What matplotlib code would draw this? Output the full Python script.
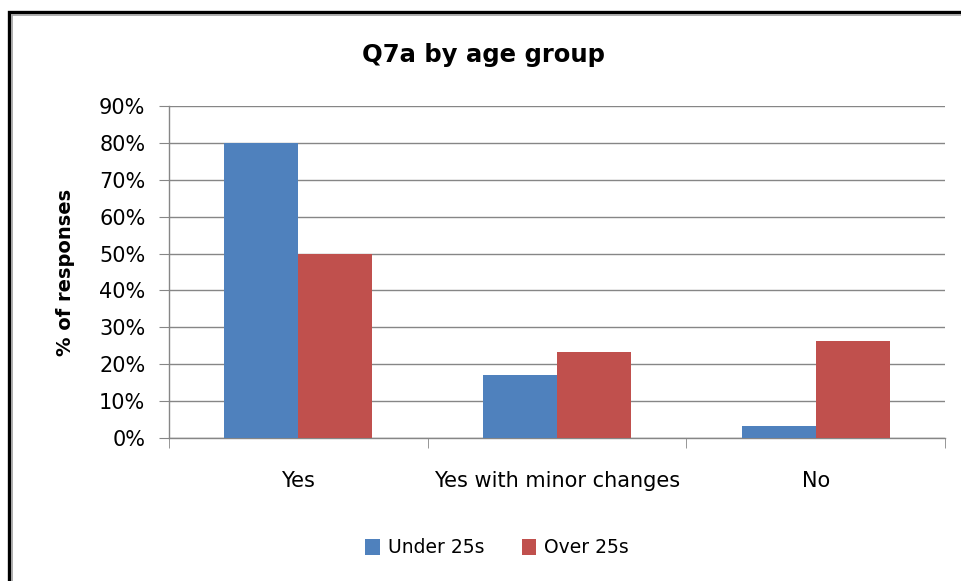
import numpy as np
import matplotlib
matplotlib.use('Agg')
import matplotlib.pyplot as plt
from matplotlib.patches import Rectangle
from matplotlib.ticker import FuncFormatter

categories = ['Yes', 'Yes with minor changes', 'No']
series_names = ['Under 25s', 'Over 25s']
under_25s = [80.0, 17.0, 3.2]
over_25s = [50.0, 23.3, 26.4]
colors = ['#4F81BD', '#C0504D']
y_ticks = list(range(0, 100, 10))

plt.rcParams['font.family'] = ['DejaVu Sans']

fig = plt.figure(figsize=(9.62, 5.81), dpi=100)
ax = fig.add_axes([0.1757, 0.2461, 0.8066, 0.5715])

x = np.arange(len(categories))
bar_w = 1.0 / 3.5
ax.bar(x - bar_w / 2, under_25s, width=bar_w, color=colors[0], label=series_names[0], zorder=3)
ax.bar(x + bar_w / 2, over_25s, width=bar_w, color=colors[1], label=series_names[1], zorder=3)

ax.set_xlim(-0.5, len(categories) - 0.5)
ax.set_ylim(0, 90)
ax.set_yticks(y_ticks)
ax.yaxis.set_major_formatter(FuncFormatter(lambda v, p: f"{int(v)}%"))
ax.grid(axis='y', color='#868686', linewidth=1.0, zorder=0)

# category labels on major ticks, tick marks at group boundaries
ax.set_xticks(x)
ax.set_xticklabels(categories)
ax.set_xticks(np.arange(-0.5, len(categories)), minor=True)
ax.tick_params(axis='x', which='major', length=0, pad=24, labelsize=15)
ax.tick_params(axis='x', which='minor', length=7, color='#868686', direction='out')
ax.tick_params(axis='y', length=7, color='#868686', pad=10, labelsize=15)

for side in ['top', 'right']:
    ax.spines[side].set_visible(False)
for side in ['left', 'bottom']:
    ax.spines[side].set_color('#868686')
    ax.spines[side].set_linewidth(1.0)

ax.set_ylabel('% of responses', fontsize=14, fontweight='bold', labelpad=17)
fig.text(0.503, 0.905, 'Q7a by age group', ha='center', va='center',
         fontsize=17.5, fontweight='bold')

fig.legend(loc='center', bbox_to_anchor=(0.517, 0.057), ncol=2, frameon=False,
           fontsize=13.5, handlelength=0.75, handleheight=0.9, handletextpad=0.45,
           columnspacing=2.0)

# chart frame (extends past right and bottom edge)
W, H = 962, 581
fig.patches.append(Rectangle((9 / W, -0.2), 1.2, 1 - 11.5 / H + 0.2,
                             transform=fig.transFigure, fill=False,
                             edgecolor='black', linewidth=2.4))
fig.patches.append(Rectangle((12 / W, -0.2), 1.2, 1 - 14.5 / H + 0.2,
                             transform=fig.transFigure, fill=False,
                             edgecolor='#a0a0a0', linewidth=1.2))

fig.savefig('out.png', dpi=100)
